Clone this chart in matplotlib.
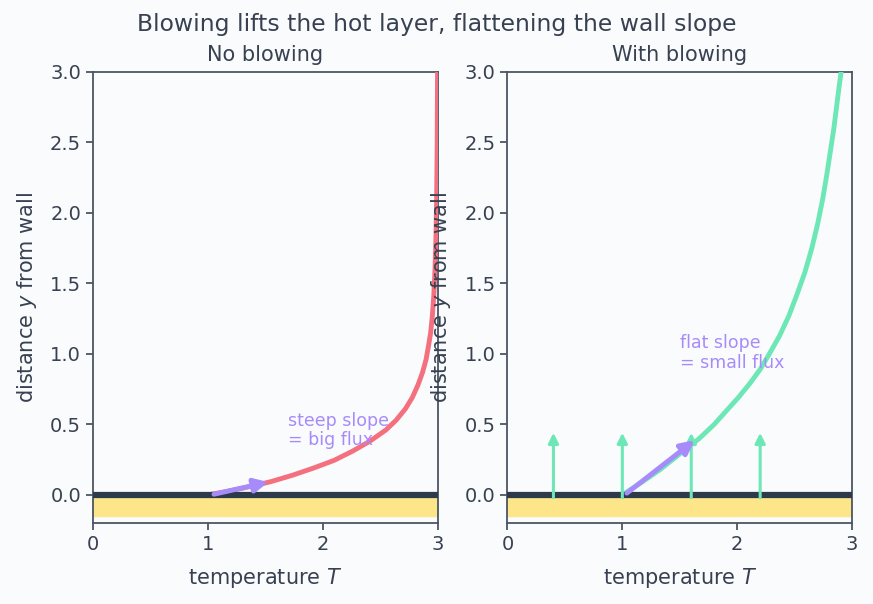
import matplotlib.pyplot as plt

# curve points: (temperature T, distance y)
T_no_blow = [1.0, 1.15, 1.30, 1.42, 1.55, 1.74, 1.92, 2.10, 2.26, 2.41, 2.55, 2.64, 2.72, 2.78, 2.83, 2.87, 2.90, 2.92, 2.94, 2.955, 2.968, 2.978, 2.986, 2.992, 2.997, 3.0]
y_no_blow = [0.0, 0.022, 0.047, 0.069, 0.094, 0.14, 0.19, 0.245, 0.31, 0.38, 0.46, 0.53, 0.61, 0.69, 0.78, 0.87, 0.96, 1.05, 1.15, 1.27, 1.42, 1.60, 1.82, 2.1, 2.5, 3.0]

T_blow = [1.0, 1.17, 1.33, 1.50, 1.67, 1.80, 1.91, 2.01, 2.11, 2.20, 2.28, 2.37, 2.45, 2.52, 2.59, 2.65, 2.70, 2.745, 2.78, 2.81, 2.84, 2.865, 2.885, 2.905]
y_blow = [0.0, 0.09, 0.18, 0.29, 0.40, 0.50, 0.60, 0.69, 0.79, 0.89, 1.0, 1.13, 1.27, 1.42, 1.58, 1.75, 1.92, 2.10, 2.27, 2.43, 2.59, 2.75, 2.88, 3.0]

blow_x = [0.4, 1.0, 1.6, 2.2]

# purple slope arrows: start and tip
slope_no_blow = [(1.03, 0.0), (1.55, 0.095)]
slope_blow = [(1.02, 0.0), (1.65, 0.40)]

bg = '#fafbfd'
text_col = '#374151'
spine_col = '#4b5563'
purple = '#a78bfa'
red = '#f4707f'
teal = '#6ee7b7'
wall = '#2d3a4a'
sand = '#fde68a'

plt.rcParams['font.family'] = 'DejaVu Sans'

fig, axes = plt.subplots(1, 2, figsize=(8.73, 6.04), dpi=100)
fig.patch.set_facecolor(bg)
fig.subplots_adjust(left=0.1065, right=0.976, top=0.881, bottom=0.134, wspace=0.203)

for ax, title in zip(axes, ['No blowing', 'With blowing']):
    ax.set_facecolor(bg)
    ax.set_xlim(0, 3)
    ax.set_ylim(-0.2, 3.0)
    ax.set_xticks([0, 1, 2, 3])
    ax.set_yticks([0, 0.5, 1.0, 1.5, 2.0, 2.5, 3.0])
    ax.axhspan(-0.15, 0, color=sand, zorder=1)
    ax.axhline(0, color=wall, lw=4.5, zorder=4)
    ax.set_title(title, fontsize=15, color=text_col, pad=7.5)
    ax.set_xlabel('temperature $T$', fontsize=15, color=text_col, labelpad=9)
    ax.set_ylabel('distance $y$ from wall', fontsize=15, color=text_col, labelpad=8)
    ax.tick_params(colors=spine_col, labelcolor=text_col, labelsize=14, length=5, width=1.3)
    for s in ax.spines.values():
        s.set_color(spine_col)
        s.set_linewidth(1.3)

ax1, ax2 = axes

ax1.plot(T_no_blow, y_no_blow, color=red, lw=3.5, zorder=3, solid_capstyle='round')
ax1.annotate('', xy=slope_no_blow[1], xytext=slope_no_blow[0],
             arrowprops=dict(arrowstyle='-|>', color=purple, lw=3.5, mutation_scale=20), zorder=5)
ax1.text(1.70, 0.59, 'steep slope\n= big flux', color=purple, fontsize=12.5, va='top', ha='left',
         linespacing=1.1)

for x in blow_x:
    ax2.annotate('', xy=(x, 0.46), xytext=(x, -0.04),
                 arrowprops=dict(arrowstyle='-|>', color=teal, lw=2.2, mutation_scale=15), zorder=5)
ax2.plot(T_blow, y_blow, color=teal, lw=3.5, zorder=3, solid_capstyle='round')
ax2.annotate('', xy=slope_blow[1], xytext=slope_blow[0],
             arrowprops=dict(arrowstyle='-|>', color=purple, lw=3.5, mutation_scale=20), zorder=6)
ax2.text(1.50, 1.14, 'flat slope\n= small flux', color=purple, fontsize=12.5, va='top', ha='left',
         linespacing=1.1)

fig.suptitle('Blowing lifts the hot layer, flattening the wall slope', fontsize=16.9, color=text_col, y=0.978)

fig.savefig('out.png', dpi=100, facecolor=bg)
